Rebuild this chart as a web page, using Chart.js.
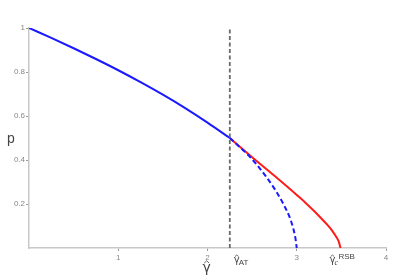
<!DOCTYPE html>
<html>
<head>
<meta charset="utf-8">
<script src="https://cdn.jsdelivr.net/npm/chart.js@4.4.0/dist/chart.umd.min.js"></script>
<style>
  html, body { margin: 0; padding: 0; background: #fff; }
  #wrap { width: 415px; height: 279px; }
</style>
</head>
<body>
<div id="wrap"><canvas id="chart" width="415" height="279"></canvas></div>
<script>
// Data
const gammaBlue = [0, 0.25, 0.5, 0.75, 1.0, 1.25, 1.5, 1.75, 2.0, 2.25];
const pBlue     = [1, 0.955, 0.908, 0.859, 0.808, 0.754, 0.697, 0.636, 0.57, 0.5];

const gammaRed = [2.25, 2.5, 2.75, 3.0, 3.1, 3.2, 3.3, 3.35, 3.4, 3.44, 3.47, 3.49];
const pRed     = [0.5, 0.413, 0.328, 0.241, 0.205, 0.166, 0.124, 0.102, 0.077, 0.052, 0.03, 0];

const gammaDash = [2.25, 2.35, 2.45, 2.55, 2.65, 2.75, 2.85, 2.92, 2.96, 2.985, 3.0];
const pDash     = [0.5, 0.463, 0.425, 0.38, 0.328, 0.27, 0.2, 0.14, 0.09, 0.045, 0];

const gammaAT = 2.25;
const gammaRSB = 3.49;

const xTicks = [1, 2, 3, 4];
const yTicks = [0.2, 0.4, 0.6, 0.8, 1];

function toPoints(xs, ys) {
    return xs.map((x, i) => ({ x: x, y: ys[i] }));
}

// gamma with a hat drawn on top
function hatGamma(ctx, x, y, size) {
    ctx.font = size + 'px "DejaVu Sans", sans-serif';
    ctx.textAlign = 'left';
    ctx.fillText('\u03b3', x, y);
    const w = ctx.measureText('\u03b3').width;
    const top = y - size * 0.78;
    ctx.beginPath();
    ctx.moveTo(x + w * 0.2, top + size * 0.14);
    ctx.lineTo(x + w * 0.5, top - size * 0.02);
    ctx.lineTo(x + w * 0.8, top + size * 0.14);
    ctx.lineWidth = 0.8;
    ctx.stroke();
    return w;
}

// Axis titles and the two marked points on the gamma axis
const labelsPlugin = {
    id: 'labels',
    afterDraw(chart) {
        const ctx = chart.ctx;
        const xs = chart.scales.x;
        const ys = chart.scales.y;
        const base = ys.getPixelForValue(0);
        ctx.save();
        ctx.fillStyle = '#444';
        ctx.strokeStyle = '#444';
        ctx.textBaseline = 'alphabetic';

        // y axis title
        ctx.font = '14px "Liberation Sans", Arial, sans-serif';
        ctx.textAlign = 'center';
        ctx.fillText('p', 11, ys.getPixelForValue(0.5) + 5);

        // x axis title
        hatGamma(ctx, xs.getPixelForValue(2) - 5, base + 24, 14);

        // gamma_AT
        let x = xs.getPixelForValue(gammaAT) + 4;
        let w = hatGamma(ctx, x, base + 15, 10);
        ctx.font = '8px "Liberation Sans", Arial, sans-serif';
        ctx.fillText('AT', x + w - 1, base + 17);

        // gamma_c^RSB
        x = xs.getPixelForValue(gammaRSB) - 11;
        w = hatGamma(ctx, x, base + 15, 10);
        ctx.font = 'italic 8px "Liberation Serif", serif';
        ctx.fillText('c', x + w - 1, base + 17);
        ctx.font = '8px "Liberation Sans", Arial, sans-serif';
        ctx.fillText('RSB', x + w + 3, base + 11);
        ctx.restore();
    }
};

const ctx = document.getElementById('chart').getContext('2d');
new Chart(ctx, {
    type: 'line',
    data: {
        datasets: [
            {
                data: toPoints([gammaAT, gammaAT], [0, 1]),
                borderColor: '#6a6a6a',
                borderWidth: 1.8,
                borderDash: [4, 2.5],
                pointRadius: 0
            },
            {
                data: toPoints(gammaDash, pDash),
                borderColor: '#1a1aff',
                borderWidth: 2,
                borderDash: [5, 3],
                pointRadius: 0,
                cubicInterpolationMode: 'monotone'
            },
            {
                data: toPoints(gammaRed, pRed),
                borderColor: '#ff1a1a',
                borderWidth: 2,
                pointRadius: 0,
                cubicInterpolationMode: 'monotone'
            },
            {
                data: toPoints(gammaBlue, pBlue),
                borderColor: '#1a1aff',
                borderWidth: 2,
                pointRadius: 0,
                cubicInterpolationMode: 'monotone'
            }
        ]
    },
    options: {
        responsive: false,
        animation: false,
        events: [],
        layout: { padding: { top: 28, right: 29, left: 0, bottom: 0 } },
        plugins: {
            legend: { display: false },
            tooltip: { enabled: false }
        },
        scales: {
            x: {
                type: 'linear',
                min: 0,
                max: 4,
                afterFit: s => { s.height = 31; },
                afterBuildTicks: s => { s.ticks = xTicks.map(v => ({ value: v })); },
                grid: { drawOnChartArea: false, tickLength: 3, color: '#999' },
                border: { color: '#c8c8c8', width: 1.5 },
                ticks: {
                    color: '#888',
                    font: { size: 8, family: '"Liberation Sans", Arial, sans-serif' },
                    padding: 2,
                    maxRotation: 0,
                    callback: v => String(v)
                }
            },
            y: {
                type: 'linear',
                min: 0,
                max: 1,
                afterFit: s => { s.width = 29; },
                afterBuildTicks: s => { s.ticks = yTicks.map(v => ({ value: v })); },
                grid: { drawOnChartArea: false, tickLength: 3, color: '#999' },
                border: { color: '#c8c8c8', width: 1.5 },
                ticks: {
                    color: '#888',
                    font: { size: 8, family: '"Liberation Sans", Arial, sans-serif' },
                    padding: 1,
                    callback: v => String(v)
                }
            }
        }
    },
    plugins: [labelsPlugin]
});
</script>
</body>
</html>
